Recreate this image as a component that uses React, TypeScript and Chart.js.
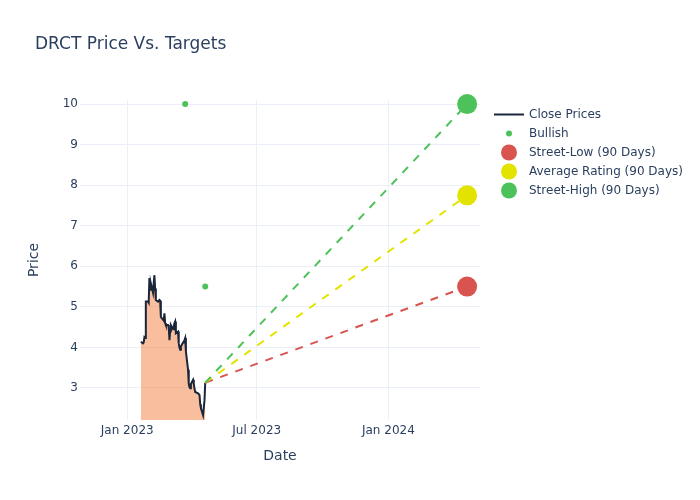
import React, { useEffect, useRef } from "react";
import { Chart, registerables } from "chart.js";

Chart.register(...registerables);

const closeDates = [
  "2023-01-20", "2023-01-23", "2023-01-24", "2023-01-25", "2023-01-26", "2023-01-27", "2023-01-30", "2023-01-31",
  "2023-02-01", "2023-02-02", "2023-02-03", "2023-02-06", "2023-02-07", "2023-02-08", "2023-02-09", "2023-02-10",
  "2023-02-13", "2023-02-14", "2023-02-15", "2023-02-16", "2023-02-17", "2023-02-21", "2023-02-22", "2023-02-23",
  "2023-02-24", "2023-02-27", "2023-02-28",
  "2023-03-01", "2023-03-02", "2023-03-03", "2023-03-06", "2023-03-07", "2023-03-08", "2023-03-09", "2023-03-10",
  "2023-03-13", "2023-03-14", "2023-03-15", "2023-03-16", "2023-03-17", "2023-03-20", "2023-03-21", "2023-03-22",
  "2023-03-23", "2023-03-24", "2023-03-27", "2023-03-28", "2023-03-29", "2023-03-30", "2023-03-31",
  "2023-04-03", "2023-04-04", "2023-04-05", "2023-04-06", "2023-04-10", "2023-04-11", "2023-04-12", "2023-04-13",
  "2023-04-14", "2023-04-17", "2023-04-18", "2023-04-19", "2023-04-20",
];
const closePrices = [
  4.14, 4.10, 4.12, 4.25, 4.23, 5.13, 5.13, 5.10,
  5.71, 5.42, 5.58, 5.35, 5.58, 5.78, 5.45, 5.17,
  5.13, 5.15, 5.17, 5.15, 4.75, 4.66, 4.84, 4.60,
  4.55, 4.55, 4.50,
  4.18, 4.40, 4.55, 4.45, 4.51, 4.60, 4.64, 4.35,
  4.39, 4.10, 4.00, 3.94, 4.02, 4.12, 4.14, 4.18,
  4.23, 3.90, 3.45, 3.10, 3.02, 2.99, 3.10,
  3.20, 3.10, 2.99, 2.90, 2.87, 2.85, 2.83, 2.60,
  2.50, 2.33, 2.33, 2.70, 3.13,
];
const bullishDates = ["2023-03-23", "2023-04-20"];
const bullishValues = [10, 5.5];
const targetDate = "2024-04-20";
const streetLow = 5.5;
const averageRating = 7.75;
const streetHigh = 10;
const xTickDates = ["2023-01-01", "2023-07-01", "2024-01-01"];
const xTickLabels = ["Jan 2023", "Jul 2023", "Jan 2024"];
const yTicks = [3, 4, 5, 6, 7, 8, 9, 10];
const xRange = ["2022-10-27", "2024-05-08"];
const yRange = [2.21, 10.1];

const FONT = "'DejaVu Sans', sans-serif";
const TEXT = "#2a3f5f";
const GRID = "#ebf0f8";
const LINE = "#1b263b";
const FILL = "rgba(243,125,59,0.5)";
const RED = "#d9534f";
const YELLOW = "#e3e300";
const GREEN = "#4ec25a";

const ts = (d: string) => new Date(d + "T00:00:00Z").getTime();

const legendItems = [
  { label: "Close Prices", kind: "line", color: LINE, r: 0 },
  { label: "Bullish", kind: "dot", color: GREEN, r: 3 },
  { label: "Street-Low (90 Days)", kind: "dot", color: RED, r: 8 },
  { label: "Average Rating (90 Days)", kind: "dot", color: YELLOW, r: 8 },
  { label: "Street-High (90 Days)", kind: "dot", color: GREEN, r: 8 },
];

const decor = {
  id: "decor",
  afterDraw(chart: any) {
    const ctx = chart.ctx as CanvasRenderingContext2D;
    ctx.save();
    ctx.fillStyle = TEXT;
    ctx.textBaseline = "middle";
    ctx.textAlign = "left";
    ctx.font = `17px ${FONT}`;
    ctx.fillText("DRCT Price Vs. Targets", 35, 45);

    ctx.font = `14px ${FONT}`;
    ctx.textAlign = "center";
    ctx.fillText("Date", 280, 456);
    ctx.save();
    ctx.translate(34, 260);
    ctx.rotate(-Math.PI / 2);
    ctx.fillText("Price", 0, 0);
    ctx.restore();

    ctx.font = `12px ${FONT}`;
    ctx.textAlign = "left";
    legendItems.forEach((it, i) => {
      const y = 114.5 + i * 19;
      if (it.kind === "line") {
        ctx.strokeStyle = it.color;
        ctx.lineWidth = 2;
        ctx.beginPath();
        ctx.moveTo(494, y);
        ctx.lineTo(524, y);
        ctx.stroke();
      } else {
        ctx.fillStyle = it.color;
        ctx.beginPath();
        ctx.arc(509, y, it.r, 0, Math.PI * 2);
        ctx.fill();
      }
      ctx.fillStyle = TEXT;
      ctx.fillText(it.label, 529, y);
    });
    ctx.restore();
  },
};

export default function App() {
  const ref = useRef<HTMLCanvasElement>(null);

  useEffect(() => {
    if (!ref.current) return;
    const lastX = ts(closeDates[closeDates.length - 1]);
    const lastY = closePrices[closePrices.length - 1];
    const tx = ts(targetDate);
    const dashed = (v: number, color: string) => ({
      type: "line" as const,
      data: [{ x: lastX, y: lastY }, { x: tx, y: v }],
      borderColor: color,
      borderWidth: 2,
      borderDash: [8, 8],
      pointRadius: 0,
      fill: false,
    });
    const marker = (v: number, color: string) => ({
      type: "scatter" as const,
      data: [{ x: tx, y: v }],
      backgroundColor: color,
      borderWidth: 0,
      pointRadius: 10,
      clip: false as any,
    });
    const chart = new Chart(ref.current, {
      type: "line",
      data: {
        datasets: [
          marker(streetHigh, GREEN),
          marker(averageRating, YELLOW),
          marker(streetLow, RED),
          {
            type: "scatter",
            data: bullishDates.map((d, i) => ({ x: ts(d), y: bullishValues[i] })),
            backgroundColor: GREEN,
            borderWidth: 0,
            pointRadius: 3,
            clip: false as any,
          },
          dashed(streetHigh, GREEN),
          dashed(averageRating, YELLOW),
          dashed(streetLow, RED),
          {
            type: "line",
            data: closeDates.map((d, i) => ({ x: ts(d), y: closePrices[i] })),
            borderColor: LINE,
            borderWidth: 2,
            backgroundColor: FILL,
            fill: "origin",
            pointRadius: 0,
            tension: 0,
          },
        ] as any,
      },
      options: {
        responsive: false,
        animation: false,
        layout: { padding: { left: 0, top: 100, right: 220, bottom: 0 } },
        plugins: { legend: { display: false }, title: { display: false }, tooltip: { enabled: false } },
        scales: {
          x: {
            type: "linear",
            min: ts(xRange[0]),
            max: ts(xRange[1]),
            afterBuildTicks: (s: any) => {
              s.ticks = xTickDates.map((d) => ({ value: ts(d) }));
            },
            afterFit: (s: any) => {
              s.height = 80;
            },
            grid: { color: GRID, drawTicks: false },
            border: { display: false },
            ticks: {
              autoSkip: false,
              maxRotation: 0,
              padding: 4,
              color: TEXT,
              font: { family: FONT, size: 12 },
              callback: (_v: any, i: number) => xTickLabels[i],
            },
          },
          y: {
            type: "linear",
            min: yRange[0],
            max: yRange[1],
            afterBuildTicks: (s: any) => {
              s.ticks = yTicks.map((v) => ({ value: v }));
            },
            afterFit: (s: any) => {
              s.width = 80;
            },
            grid: { color: GRID, drawTicks: false },
            border: { display: false },
            ticks: {
              padding: 2,
              color: TEXT,
              font: { family: FONT, size: 12 },
              callback: (v: any) => String(v),
            },
          },
        },
      },
      plugins: [decor],
    });
    return () => chart.destroy();
  }, []);

  return (
    <div style={{ position: "fixed", left: 0, top: 0, width: 700, height: 500, background: "#fff" }}>
      <canvas ref={ref} width={700} height={500} style={{ display: "block" }} />
    </div>
  );
}
